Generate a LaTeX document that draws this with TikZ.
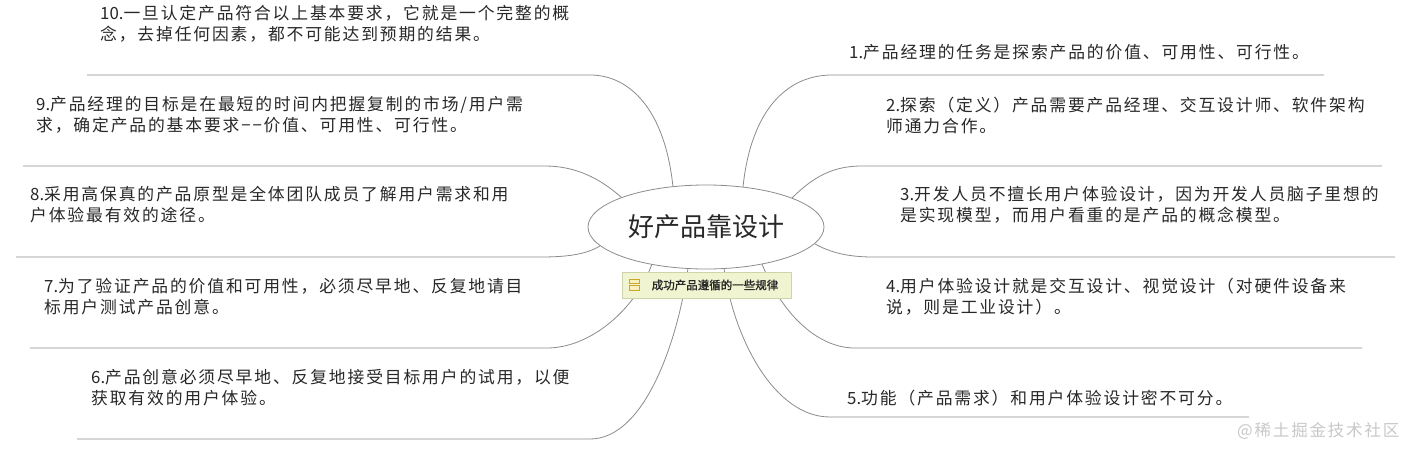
\documentclass[tikz,border=0pt]{standalone}
\usepackage{fontspec}
\usetikzlibrary{shapes.geometric}
\newfontfamily\cjk{Noto Sans CJK SC}[LetterSpace=11]
\newfontfamily\cjkplain{Noto Sans CJK SC}
\newfontfamily\cjkbold{Noto Sans CJK SC}[FakeBold=1.5]
\newcommand\tnum[1]{{\cjkplain #1}}
\definecolor{linec}{RGB}{140,140,140}
\definecolor{txt}{RGB}{40,40,40}
\definecolor{boxfill}{RGB}{240,244,208}
\definecolor{boxline}{RGB}{205,212,170}
\definecolor{icon}{RGB}{205,165,40}
\definecolor{iconfill}{RGB}{250,240,190}
\definecolor{wm}{RGB}{200,200,200}
\tikzset{
  branch/.style={draw=linec, line width=0.8pt},
  topic/.style={anchor=base west, inner sep=0pt, align=left, text=txt,
    font=\cjk\fontsize{16.8}{21}\selectfont},
  central/.style={ellipse, draw=linec, line width=0.8pt, fill=white,
    minimum width=236pt, minimum height=84pt, inner sep=0pt, text=txt,
    font=\cjkplain\fontsize{26}{30}\selectfont},
  lblbox/.style={rectangle, draw=boxline, fill=boxfill, line width=0.6pt,
    minimum width=169pt, minimum height=26pt, inner sep=0pt},
}
\begin{document}
\begin{tikzpicture}[x=1pt, y=-1pt]
\useasboundingbox[fill=white] (0,0) rectangle (1412,455);
% branch start points on the central ellipse
\coordinate (s10) at (673,187);
\coordinate (s9) at (622,198);
\coordinate (s8) at (600,246);
\coordinate (s7) at (652,264);
\coordinate (s6) at (688,268);
\coordinate (s1) at (743,187);
\coordinate (s2) at (792,198);
\coordinate (s3) at (815,244);
\coordinate (s4) at (762,264);
\coordinate (s5) at (724,268);
% underline ends
\coordinate (a10) at (590,75);  \coordinate (b10) at (87,75);
\coordinate (a9) at (545,166);  \coordinate (b9) at (23,166);
\coordinate (a8) at (540,257);  \coordinate (b8) at (16,257);
\coordinate (a7) at (547,348);  \coordinate (b7) at (30,348);
\coordinate (a6) at (590,439);  \coordinate (b6) at (77,439);
\coordinate (a1) at (832,75);   \coordinate (b1) at (1324,75);
\coordinate (a2) at (862,166);  \coordinate (b2) at (1382,166);
\coordinate (a3) at (874,257);  \coordinate (b3) at (1395,257);
\coordinate (a4) at (855,348);  \coordinate (b4) at (1362,348);
\coordinate (a5) at (830,417);  \coordinate (b5) at (1249,417);
% branches
\draw[branch] (s10) .. controls (665,110) and (630,75) .. (a10) -- (b10);
\draw[branch] (s9) .. controls (600,178) and (575,166) .. (a9) -- (b9);
\draw[branch] (s8) .. controls (585,255) and (565,257) .. (a8) -- (b8);
\draw[branch] (s7) .. controls (635,310) and (590,348) .. (a7) -- (b7);
\draw[branch] (s6) .. controls (678,340) and (645,439) .. (a6) -- (b6);
\draw[branch] (s1) .. controls (751,110) and (787,75) .. (a1) -- (b1);
\draw[branch] (s2) .. controls (815,175) and (835,166) .. (a2) -- (b2);
\draw[branch] (s3) .. controls (835,255) and (855,257) .. (a3) -- (b3);
\draw[branch] (s4) .. controls (780,310) and (815,348) .. (a4) -- (b4);
\draw[branch] (s5) .. controls (734,340) and (775,417) .. (a5) -- (b5);
% central topic
\node[central] (c) at (706,227) {好产品靠设计};
% label
\node[lblbox] (lbl) at (706.5,285) {};
\draw[icon, fill=iconfill, line width=0.6pt] (629,279) rectangle (639,283.5);
\draw[icon, fill=iconfill, line width=0.6pt] (629,285.5) rectangle (639,290);
\node[inner sep=0pt, text=txt, font=\cjkbold\fontsize{11.5}{13}\selectfont] (lbltext) at (715,285) {成功产品遵循的一些规律};
% topics
\node[topic] (t10) at (100,40) {\tnum{10.}一旦认定产品符合以上基本要求，它就是一个完整的概\\念，去掉任何因素，都不可能达到预期的结果。};
\node[topic] (t9) at (36,131) {\tnum{9.}产品经理的目标是在最短的时间内把握复制的市场/用户需\\求，确定产品的基本要求−−价值、可用性、可行性。};
\node[topic] (t8) at (30,221) {\tnum{8.}采用高保真的产品原型是全体团队成员了解用户需求和用\\户体验最有效的途径。};
\node[topic] (t7) at (44,313) {\tnum{7.}为了验证产品的价值和可用性，必须尽早地、反复地请目\\标用户测试产品创意。};
\node[topic] (t6) at (91,404) {\tnum{6.}产品创意必须尽早地、反复地接受目标用户的试用，以便\\获取有效的用户体验。};
\node[topic] (t1) at (849,58) {\tnum{1.}产品经理的任务是探索产品的价值、可用性、可行性。};
\node[topic] (t2) at (886,132) {\tnum{2.}探索（定义）产品需要产品经理、交互设计师、软件架构\\师通力合作。};
\node[topic] (t3) at (900,221) {\tnum{3.}开发人员不擅长用户体验设计，因为开发人员脑子里想的\\是实现模型，而用户看重的是产品的概念模型。};
\node[topic] (t4) at (886,313) {\tnum{4.}用户体验设计就是交互设计、视觉设计（对硬件设备来\\说，则是工业设计）。};
\node[topic] (t5) at (847,404) {\tnum{5.}功能（产品需求）和用户体验设计密不可分。};
% watermark
\node[anchor=base west, inner sep=0pt, text=wm, font=\cjk\fontsize{16.5}{18}\selectfont] (wmk) at (1237,436) {@稀土掘金技术社区};
\end{tikzpicture}
\end{document}
